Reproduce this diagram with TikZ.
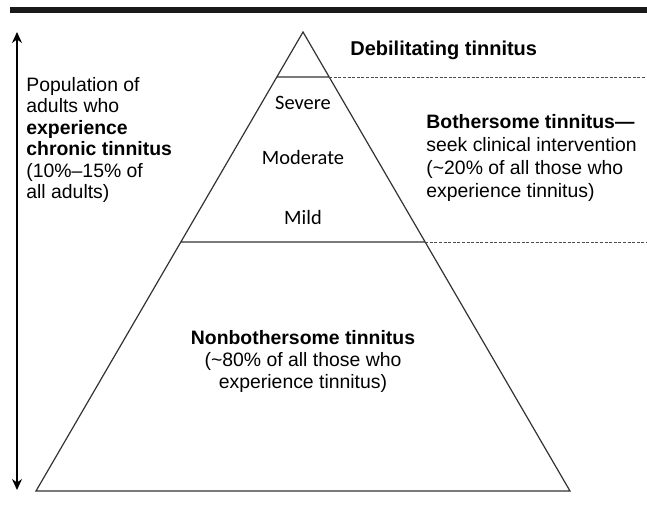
\documentclass[tikz,border=0pt]{standalone}
\usepackage{fontspec}
\setmainfont{Liberation Sans}
\newfontfamily\levelfont{Carlito}
\usetikzlibrary{calc,arrows.meta}

\begin{document}
\begin{tikzpicture}[x=0.5pt,y=-0.5pt,
    txt/.style={inner sep=0pt,font=\fontsize{9.7}{#1}\selectfont},txt/.default=11,
    lvl/.style={inner sep=0pt,font=\levelfont\fontsize{10.2}{12}\selectfont},
    edge/.style={draw=black!80,line width=0.6pt},
    sep/.style={draw=black!70,line width=0.4pt,dash pattern=on 1.5pt off 0.8pt}]
      \useasboundingbox(0,0)rectangle(647,504);
      \fill[black!90](10,7)rectangle(647,13);
      \coordinate(T)at(303,32);\coordinate(L)at(36,491);\coordinate(R)at(570,491);
      \coordinate(A1)at($(T)!0.098!(L)$);\coordinate(B1)at($(T)!0.098!(R)$);
      \coordinate(A2)at($(T)!0.4575!(L)$);\coordinate(B2)at($(T)!0.4575!(R)$);
      \coordinate(RE)at(647,0);
      \coordinate(P1)at(17,32);\coordinate(P2)at(17,490);
      \draw[edge,line join=miter](T)--(L)--(R)--cycle
           (A1)--(B1) (A2)--(B2);
      \draw[sep](B1)--(B1-|RE) (B2)--(B2-|RE);
      \draw[line width=0.7pt,{Stealth[length=5.5pt,width=5pt]}-{Stealth[length=5.5pt,width=5pt]}](P1)--(P2);
      \foreach \N/\T/\Y in{sev/Severe/103, mod/Moderate/157, mild/Mild/217}{
        \node[lvl](\N)at(303,\Y){\T};
      }
      \node[txt,anchor=west,font=\bfseries](deb)at(350,50){Debilitating tinnitus};
      \node[txt=10.7,anchor=west,align=left](pop)at(26,140){Population of\\adults who\\\textbf{experience}\\\textbf{chronic tinnitus}\\(10\%--15\% of\\all adults)};
      \node[txt=11.6,anchor=west,align=left](both)at(426,158){\textbf{Bothersome tinnitus---}\\seek clinical intervention\\(\textasciitilde20\% of all those who\\experience tinnitus)};
      \node[txt,align=center](nonb)at(303,361){\textbf{Nonbothersome tinnitus}\\(\textasciitilde80\% of all those who\\experience tinnitus)};
    \end{tikzpicture}
\end{document}
